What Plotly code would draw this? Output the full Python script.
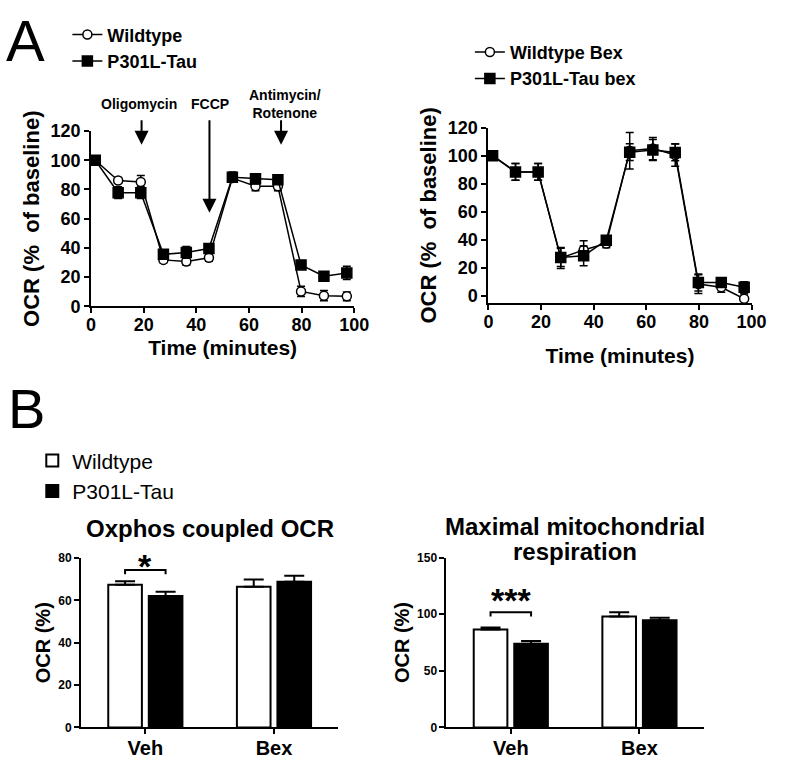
import plotly.graph_objects as go

# ---------------- data ----------------
time_min = [1.6, 10.3, 18.9, 27.5, 36.2, 44.8, 53.7, 62.5, 71.0, 79.8, 88.5, 97.2]

wt_veh = [100, 86.2, 85.1, 31.8, 30.7, 33.3, 87.8, 82.2, 82.2, 10.2, 7.3, 6.9]
wt_veh_err = [1.0, 2.0, 4.4, 2.0, 2.5, 2.5, 2.5, 3.0, 3.0, 3.5, 3.5, 3.0]
tau_veh = [100, 77.8, 77.8, 35.6, 36.9, 39.6, 88.4, 87.3, 86.7, 28.4, 20.7, 22.9]
tau_veh_err = [1.0, 4.0, 4.0, 3.0, 4.0, 3.0, 3.5, 3.5, 3.0, 2.5, 1.5, 4.5]

wt_bex = [100, 88.4, 88.4, 27.1, 32.9, 37.5, 103.5, 105.0, 100.5, 8.6, 6.3, -1.9]
wt_bex_err = [1.0, 6.0, 6.0, 7.5, 6.5, 3.0, 13.0, 8.0, 8.0, 6.7, 3.5, 3.5]
tau_bex = [100, 88.4, 88.4, 27.5, 28.7, 39.8, 102.5, 104.0, 102.3, 9.7, 9.7, 6.3]
tau_bex_err = [1.0, 6.0, 6.0, 6.5, 7.0, 3.0, 6.0, 7.5, 6.0, 6.0, 3.0, 4.0]

groups = ["Veh", "Bex"]
oxphos_wt = [67.4, 66.5]
oxphos_wt_err = [1.6, 3.4]
oxphos_tau = [62.1, 68.8]
oxphos_tau_err = [2.0, 2.8]

maxresp_wt = [86.6, 98.1]
maxresp_wt_err = [1.7, 3.7]
maxresp_tau = [74.0, 94.6]
maxresp_tau_err = [2.3, 2.3]

line_y_ticks = [0, 20, 40, 60, 80, 100, 120]
time_ticks = [0, 20, 40, 60, 80, 100]
oxphos_ticks = [0, 20, 40, 60, 80]
maxresp_ticks = [0, 50, 100, 150]

# ---------------- styling ----------------
FONT = "Liberation Sans, Arial, sans-serif"
BARGAP = 0.37
BARGROUPGAP = 0.17

W, H = 787, 767


def fx(p):  # pixel x -> paper
    return p / W


def fy(p):  # pixel y (from top) -> paper
    return 1 - p / H


fig = go.Figure()


def line_trace(y, err, name, symbol, xa, ya, legend):
    filled = symbol == "square"
    return go.Scatter(
        x=time_min, y=y, name=name, mode="lines+markers",
        xaxis=xa, yaxis=ya, legend=legend,
        line=dict(color="black", width=1.5),
        marker=dict(symbol=symbol, size=10 if filled else 9,
                    color="black" if filled else "white",
                    line=dict(color="black", width=1.5)),
        error_y=dict(type="data", array=err, visible=True,
                     color="black", thickness=1.5, width=4),
        cliponaxis=False,
    )


fig.add_trace(line_trace(wt_veh, wt_veh_err, "Wildtype", "circle", "x", "y", "legend"))
fig.add_trace(line_trace(tau_veh, tau_veh_err, "P301L-Tau", "square", "x", "y", "legend"))
fig.add_trace(line_trace(wt_bex, wt_bex_err, "Wildtype Bex", "circle", "x2", "y2", "legend2"))
fig.add_trace(line_trace(tau_bex, tau_bex_err, "P301L-Tau bex", "square", "x2", "y2", "legend2"))


def bar_trace(y, err, name, color, xa, ya, show):
    return go.Bar(
        x=groups, y=y, name=name, xaxis=xa, yaxis=ya,
        legend="legend3", showlegend=show,
        marker=dict(color=color, line=dict(color="black", width=2)),
        error_y=dict(type="data", array=err, arrayminus=[0] * len(err),
                     symmetric=False, visible=True, color="black",
                     thickness=2, width=10),
    )


fig.add_trace(bar_trace(oxphos_wt, oxphos_wt_err, "Wildtype", "white", "x3", "y3", True))
fig.add_trace(bar_trace(oxphos_tau, oxphos_tau_err, "P301L-Tau", "black", "x3", "y3", True))
fig.add_trace(bar_trace(maxresp_wt, maxresp_wt_err, "Wildtype", "white", "x4", "y4", False))
fig.add_trace(bar_trace(maxresp_tau, maxresp_tau_err, "P301L-Tau", "black", "x4", "y4", False))


def dom_x(a, b):
    return [fx(a), fx(b)]


def dom_y(top, bottom):
    return [fy(bottom), fy(top)]


axis_common = dict(showline=True, linecolor="black", linewidth=2,
                   ticks="outside", ticklen=5, tickwidth=2, tickcolor="black",
                   showgrid=False, zeroline=False, color="black")

tick_big = dict(family=FONT, size=18, color="black", weight="bold")
title_big = dict(family=FONT, size=21, color="black", weight="bold")
title_y_big = dict(family=FONT, size=22, color="black", weight="bold")
tick_small = dict(family=FONT, size=12, color="black", weight="bold")
cat_font = dict(family=FONT, size=20, color="black", weight="bold")
bar_ytitle = dict(family=FONT, size=20, color="black", weight="bold")

fig.update_layout(
    width=W, height=H, autosize=False,
    margin=dict(l=0, r=0, t=0, b=0),
    paper_bgcolor="white", plot_bgcolor="white",
    font=dict(family=FONT, color="black"),
    barmode="group", bargap=BARGAP, bargroupgap=BARGROUPGAP,
    xaxis=dict(domain=dom_x(88.3, 358.3), anchor="y", range=[0, 100],
               tickvals=time_ticks, tickfont=tick_big, ticklabelstandoff=-4,
               title=dict(text="Time (minutes)", font=title_big, standoff=6),
               **axis_common),
    yaxis=dict(domain=dom_y(124.3, 304.3), anchor="x", range=[0, 120],
               tickvals=line_y_ticks, tickfont=tick_big,
               title=dict(text="OCR (%  of baseline)", font=title_y_big, standoff=5),
               **axis_common),
    xaxis2=dict(domain=dom_x(496, 766), anchor="y2", range=[0, 100],
                tickvals=time_ticks, tickfont=tick_big, ticklabelstandoff=-4,
                title=dict(text="Time (minutes)", font=title_big, standoff=18),
                **axis_common),
    yaxis2=dict(domain=dom_y(120.7, 301), anchor="x2", range=[-5, 120],
                tickvals=line_y_ticks, tickfont=tick_big,
                title=dict(text="OCR (%  of baseline)", font=title_y_big, standoff=5),
                **axis_common),
    xaxis3=dict(domain=dom_x(78, 342), anchor="y3", range=[-0.5, 1.5],
                type="category", tickfont=cat_font, ticklabelstandoff=-3,
                **axis_common),
    yaxis3=dict(domain=dom_y(562.7, 736.7), anchor="x3", range=[0, 80],
                tickvals=oxphos_ticks, tickfont=tick_small,
                title=dict(text="OCR (%)", font=bar_ytitle, standoff=2),
                **axis_common),
    xaxis4=dict(domain=dom_x(453, 717), anchor="y4", range=[-0.5, 1.5],
                type="category", tickfont=cat_font, ticklabelstandoff=-3,
                **axis_common),
    yaxis4=dict(domain=dom_y(562.3, 736.7), anchor="x4", range=[0, 150],
                tickvals=maxresp_ticks, tickfont=tick_small,
                title=dict(text="OCR (%)", font=bar_ytitle, standoff=2),
                **axis_common),
    legend=dict(x=fx(64), y=fy(6.5), xanchor="left", yanchor="top",
                font=dict(family=FONT, size=18, color="black", weight="bold"),
                itemwidth=30, bgcolor="rgba(0,0,0,0)", tracegroupgap=0),
    legend2=dict(x=fx(477), y=fy(24.5), xanchor="left", yanchor="top",
                 font=dict(family=FONT, size=18, color="black", weight="bold"),
                 itemwidth=30, bgcolor="rgba(0,0,0,0)", tracegroupgap=0),
    legend3=dict(x=fx(28), y=fy(442), xanchor="left", yanchor="top",
                 font=dict(family=FONT, size=21, color="black"),
                 itemwidth=30, bgcolor="rgba(0,0,0,0)", tracegroupgap=0,
                 traceorder="normal"),
)

ann = []
# panel letters
ann.append(dict(text="A", x=fx(21), y=fy(31), xref="paper", yref="paper",
                showarrow=False, font=dict(family=FONT, size=58, color="black"),
                xanchor="center", yanchor="middle"))
ann.append(dict(text="B", x=fx(22), y=fy(409), xref="paper", yref="paper",
                showarrow=False, font=dict(family=FONT, size=56, color="black"),
                xanchor="center", yanchor="middle"))

# injection labels and arrows (panel A, left)
lab_font = dict(family=FONT, size=14, color="black", weight="bold")
for txt, px_x, px_y in [("Oligomycin", 138, 97), ("FCCP", 210, 97),
                        ("Antimycin/<br>Rotenone", 287, 96.5)]:
    ann.append(dict(text=txt, x=fx(px_x), y=fy(px_y), xref="paper", yref="paper",
                    xanchor="center", yanchor="middle", showarrow=False, font=lab_font))
for ax_x, tip_y in [(19.2, 110.7), (45.0, 64.0), (72.2, 110.7)]:
    ann.append(dict(text="", x=ax_x, y=tip_y, ax=ax_x, ay=128.5,
                    xref="x", yref="y", axref="x", ayref="y",
                    showarrow=True, arrowhead=2, arrowsize=1.4, arrowwidth=2,
                    arrowcolor="black", standoff=0, startstandoff=0))

# bar chart titles
bt_font = dict(family=FONT, size=24, color="black", weight="bold")
for txt, px_x, px_y in [("Oxphos coupled OCR", 210, 532),
                        ("Maximal mitochondrial", 585, 530),
                        ("respiration", 585, 556)]:
    ann.append(dict(text=txt, x=fx(px_x), y=fy(px_y), xref="paper", yref="paper",
                    xanchor="center", yanchor="middle", showarrow=False, font=bt_font))

# significance markers
half = (1 - BARGAP) / 4
star_font = dict(family=FONT, size=34, color="black", weight="bold")
ann.append(dict(text="*", x=0, y=76.2, xref="x3", yref="y3", showarrow=False,
                xanchor="center", yanchor="middle", font=star_font))
ann.append(dict(text="***", x=0, y=113, xref="x4", yref="y4", showarrow=False,
                xanchor="center", yanchor="middle", font=star_font))
fig.update_layout(annotations=ann)

shapes = []
for xr, yr, yb, yt in [("x3", "y3", 72.4, 74.3), ("x4", "y4", 98.0, 101.8)]:
    shapes.append(dict(type="path", xref=xr, yref=yr,
                       path=f"M {-half},{yb} L {-half},{yt} L {half},{yt} L {half},{yb}",
                       line=dict(color="black", width=2)))
fig.update_layout(shapes=shapes)

# remove the default 8px page margin so the figure fills the window exactly
fig.write_html("out.html",
               config={"displayModeBar": False},
               post_script="document.body.style.margin='0';"
                           "document.documentElement.style.overflow='hidden';")
